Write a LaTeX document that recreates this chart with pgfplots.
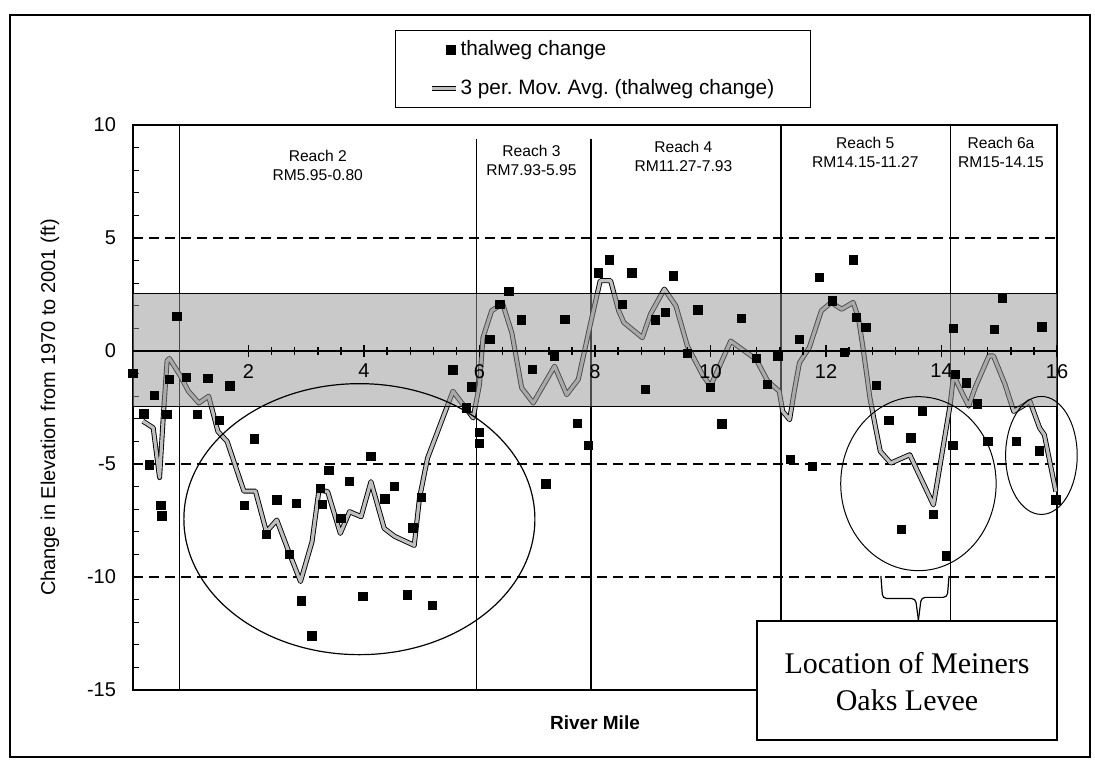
\documentclass[border=0pt]{standalone}
\usepackage{fontspec}
\setmainfont{Liberation Sans}
\newfontfamily\seriffont{Liberation Serif}
\usepackage{pgfplots}
\pgfplotsset{compat=1.18}
\pgfplotsset{
  sqlegend/.style={legend image code/.code={\draw[##1, only marks] plot coordinates {(9.5pt,0pt)};}},
  avglegend/.style={legend image code/.code={\draw[##1] (0pt,0pt) -- (12pt,0pt);}},
}
\frenchspacing
\begin{document}
\begin{tikzpicture}
\useasboundingbox (0,0) rectangle (547.5pt,384pt);
\draw[line width=0.6pt] (5pt,5.5pt) rectangle (545pt,376.5pt);
\begin{axis}[
  at={(66.5pt,39pt)}, anchor=south west,
  width=462pt, height=282.5pt, scale only axis,
  xmin=0, xmax=16, ymin=-15, ymax=10,
  clip=false,
  axis line style={line width=0.8pt},
  xtick=\empty,
  ytick={-15,-10,-5,0,5,10},
  minor y tick num=4,
  ytick pos=left,
  tick align=inside,
  major tick length=3pt, minor tick length=3pt,
  tick style={line width=0.6pt, black},
  /pgf/number format/assume math mode=true,
  yticklabel style={font=\fontsize{10}{12}\selectfont, xshift=-5pt},
  ylabel={Change in Elevation from 1970 to 2001 (ft)},
  ylabel style={font=\fontsize{10}{12}\selectfont, at={(axis description cs:-0.09,0.5)}, anchor=center},
  xlabel={River Mile},
  xlabel style={font=\bfseries\fontsize{9.5}{12}\selectfont, at={(axis description cs:0.5,-0.057)}, anchor=center},
  legend style={at={(axis description cs:0.2835,1.168)}, anchor=north west, draw=black, line width=0.6pt,
     font=\fontsize{10.4}{12}\selectfont, inner xsep=17pt, inner ysep=4pt, row sep=8.5pt, nodes={inner sep=1pt}},
  legend cell align=left,
]
% dashed grid lines
\draw[line width=0.7pt, dash pattern=on 5pt off 3pt] (axis cs:0,5) -- (axis cs:16,5);
\draw[line width=0.7pt, dash pattern=on 5pt off 3pt] (axis cs:0,-5) -- (axis cs:16,-5);
\draw[line width=0.7pt, dash pattern=on 5pt off 3pt] (axis cs:0,-10) -- (axis cs:16,-10);
% reach boundaries
\draw[line width=0.6pt] (axis cs:0.8,10) -- (axis cs:0.8,-15);
\draw[line width=0.6pt] (axis cs:5.95,9.4) -- (axis cs:5.95,-15);
\draw[line width=0.6pt] (axis cs:7.93,9.4) -- (axis cs:7.93,-15);
\draw[line width=0.6pt] (axis cs:11.22,10) -- (axis cs:11.22,-15);
\draw[line width=0.6pt] (axis cs:14.15,10) -- (axis cs:14.15,-15);

\addplot[only marks, mark=square*, mark size=2.1pt, mark options={fill=black, draw=black}, sqlegend]
coordinates {
(0.00,-0.98) (0.19,-2.79) (0.28,-5.04) (0.37,-1.96) (0.48,-6.84) (0.50,-7.30)
(0.59,-2.81) (0.63,-1.26) (0.76,1.52) (0.92,-1.16) (1.12,-2.81) (1.30,-1.21)
(1.50,-3.08) (1.68,-1.54) (1.93,-6.84) (2.10,-3.88) (2.31,-8.12) (2.49,-6.59)
(2.71,-9.00) (2.83,-6.74) (2.92,-11.05) (3.10,-12.60) (3.24,-6.07) (3.28,-6.78)
(3.39,-5.28) (3.60,-7.41) (3.75,-5.78) (3.98,-10.85) (4.12,-4.65) (4.36,-6.55)
(4.53,-6.00) (4.75,-10.80) (4.85,-7.82) (4.99,-6.49) (5.18,-11.26) (5.54,-0.84)
(5.77,-2.52) (5.86,-1.59) (6.00,-3.60) (6.00,-4.10) (6.18,0.52) (6.35,2.07)
(6.51,2.64) (6.73,1.38) (6.92,-0.81) (7.15,-5.88) (7.30,-0.22) (7.48,1.41)
(7.70,-3.19) (7.89,-4.18) (8.06,3.45) (8.25,4.04) (8.47,2.07) (8.64,3.45)
(8.87,-1.70) (9.05,1.38) (9.22,1.70) (9.36,3.33) (9.60,-0.10) (9.78,1.82)
(10.00,-1.60) (10.20,-3.23) (10.54,1.45) (10.79,-0.33) (10.99,-1.48) (11.17,-0.22)
(11.38,-4.79) (11.54,0.52) (11.76,-5.10) (11.89,3.26) (12.11,2.22) (12.32,-0.07)
(12.47,4.04) (12.53,1.48) (12.69,1.04) (12.87,-1.52) (13.09,-3.08) (13.31,-7.90)
(13.47,-3.85) (13.67,-2.67) (13.86,-7.23) (14.08,-9.07) (14.20,-4.18) (14.21,1.01)
(14.24,-1.04) (14.43,-1.41) (14.62,-2.34) (14.80,-4.00) (14.92,0.96) (15.05,2.34)
(15.30,-4.00) (15.69,-4.42) (15.74,1.07) (15.98,-6.59)
};
\addlegendentry{thalweg change}

\addplot[black, line width=0.45pt, double=gray!50, double distance=1.6pt, line join=round, mark=none, avglegend]
coordinates {
(0.17,-3.1) (0.35,-3.4) (0.46,-5.6) (0.53,-2.67) (0.59,-0.44) (0.63,-0.33)
(0.82,-1.1) (0.96,-1.78) (1.14,-2.3) (1.31,-2.0) (1.47,-3.56) (1.63,-4.0)
(1.92,-6.2) (2.12,-6.2) (2.31,-8.0) (2.49,-7.48) (2.70,-8.9) (2.90,-10.2)
(3.10,-8.44) (3.22,-6.15) (3.37,-6.22) (3.59,-8.07) (3.75,-7.11) (3.95,-7.33)
(4.12,-5.78) (4.35,-7.85) (4.53,-8.2) (4.87,-8.6) (4.96,-6.52) (5.10,-4.74)
(5.54,-1.78) (5.89,-2.96) (6.00,-1.48) (6.06,0.59) (6.21,1.78) (6.40,2.1)
(6.56,0.8) (6.73,-1.63) (6.93,-2.30) (7.30,-0.67) (7.51,-1.93) (7.71,-1.26)
(7.92,1.19) (8.09,3.11) (8.27,3.11) (8.41,1.78) (8.50,1.26) (8.82,0.59)
(8.96,1.63) (9.20,2.74) (9.40,2.0) (9.60,0.22) (9.86,-1.04) (10.00,-1.56)
(10.35,0.44) (10.79,-0.37) (10.99,-1.33) (11.19,-1.78) (11.25,-2.67) (11.37,-3.04)
(11.45,-1.78) (11.54,-0.52) (11.71,0.15) (11.92,1.78) (12.09,2.15) (12.27,1.85)
(12.47,2.15) (12.56,1.48) (12.64,0.15) (12.76,-2.07) (12.86,-3.41) (12.94,-4.44)
(13.12,-4.96) (13.45,-4.59) (13.86,-6.81) (14.15,-2.37) (14.21,-1.04) (14.30,-1.56)
(14.47,-2.44) (14.58,-1.63) (14.82,-0.22) (14.90,-0.22) (15.10,-1.48) (15.25,-2.67)
(15.45,-2.37) (15.53,-2.22) (15.70,-3.41) (15.78,-3.7) (15.98,-6.22)
};
\addlegendentry{3 per. Mov. Avg. (thalweg change)\hspace{3pt}}

% shaded band
\fill[black!42, opacity=0.5] (axis cs:0,-2.45) rectangle (axis cs:16,2.55);
\draw[line width=0.8pt] (axis cs:0,2.55) -- (axis cs:16,2.55);
\draw[line width=0.8pt] (axis cs:0,-2.45) -- (axis cs:16,-2.45);

% ellipses
\draw[line width=0.6pt] (axis cs:3.92,-7.44) ellipse [x radius=87.75pt, y radius=67.75pt];
\draw[line width=0.5pt] (axis cs:13.6,-5.87) ellipse [x radius=38.85pt, y radius=43.5pt];
\draw[line width=0.5pt] (axis cs:15.73,-4.62) ellipse [x radius=17.9pt, y radius=29.5pt];
% brace
\draw[line width=0.6pt, rounded corners=2pt] (axis cs:12.95,-9.95) -- (axis cs:12.98,-10.95) -- (axis cs:13.55,-10.95) -- (axis cs:13.6,-11.9);
\draw[line width=0.6pt, rounded corners=2pt] (axis cs:13.6,-11.9) -- (axis cs:13.65,-10.9) -- (axis cs:14.1,-10.9) -- (axis cs:14.13,-9.95);

% reach labels
\node[font=\fontsize{7.8}{9.5}\selectfont, align=center] at (axis cs:3.2,8.22) {Reach 2\\RM5.95-0.80};
\node[font=\fontsize{7.8}{9.5}\selectfont, align=center] at (axis cs:6.9,8.44) {Reach 3\\RM7.93-5.95};
\node[font=\fontsize{7.8}{9.5}\selectfont, align=center] at (axis cs:9.53,8.62) {Reach 4\\RM11.27-7.93};
\node[font=\fontsize{7.8}{9.5}\selectfont, align=center] at (axis cs:12.68,8.78) {Reach 5\\RM14.15-11.27};
\node[font=\fontsize{7.8}{9.5}\selectfont, align=center] at (axis cs:15.03,8.8) {Reach 6a\\RM15-14.15};
\end{axis}

\begin{axis}[
  at={(66.5pt,39pt)}, anchor=south west,
  width=462pt, height=282.5pt, scale only axis,
  xmin=0, xmax=16, ymin=-15, ymax=10,
  axis x line=middle, axis y line=none,
  x axis line style={-, line width=0.8pt},
  xtick={2,4,...,16}, minor x tick num=4,
  ytick=\empty,
  tick align=center,
  major tick length=6pt, minor tick length=4pt,
  tick style={line width=0.7pt, black},
  /pgf/number format/assume math mode=true,
  xticklabel style={font=\fontsize{10}{12}\selectfont, yshift=0pt},
]
\end{axis}

\draw[fill=white, line width=0.6pt] (378.5pt,14pt) rectangle (528.5pt,73.5pt);
\node[font=\seriffont\fontsize{15}{18.5}\selectfont, align=center] at (453.5pt,43.25pt) {Location of Meiners\\Oaks Levee};
\end{tikzpicture}
\end{document}
